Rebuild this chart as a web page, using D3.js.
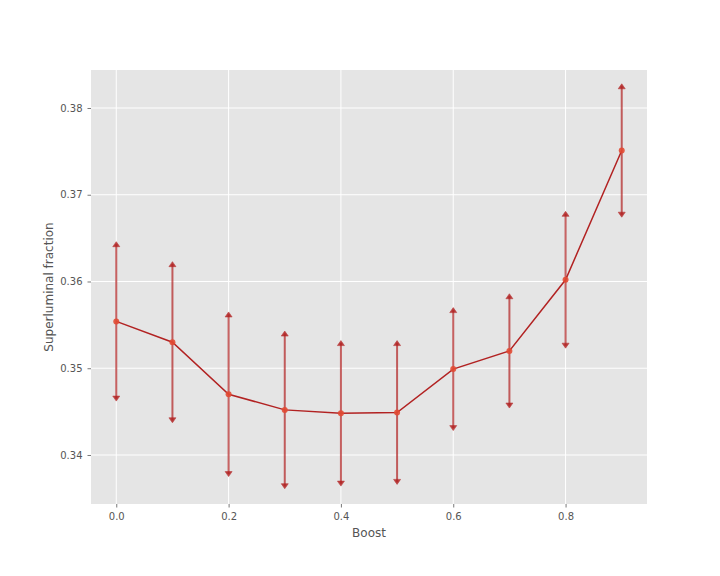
<!DOCTYPE html>
<html>
<head>
<meta charset="utf-8">
<script src="https://cdn.jsdelivr.net/npm/d3@7"></script>
<style>
  body { margin: 0; background: #fff; }
  svg { display: block; font-family: "DejaVu Sans", sans-serif; }
</style>
</head>
<body>
<svg id="chart" width="720" height="576"></svg>
<script>
const boost = [0.0, 0.1, 0.2, 0.3, 0.4, 0.5, 0.6, 0.7, 0.8, 0.9];
const fraction = [0.3554, 0.3530, 0.3470, 0.3452, 0.3448, 0.3449, 0.3499, 0.3520, 0.3602, 0.3751];
const errors = [0.0089, 0.0090, 0.0092, 0.0088, 0.0081, 0.0080, 0.0068, 0.0063, 0.0076, 0.0074];
const xTicks = [0.0, 0.2, 0.4, 0.6, 0.8];
const yTicks = [0.34, 0.35, 0.36, 0.37, 0.38];
const xLabel = "Boost";
const yLabel = "Superluminal fraction";

const margin = {left: 91, top: 70, right: 720 - 647, bottom: 576 - 504};
const W = 720 - margin.left - margin.right;
const H = 576 - margin.top - margin.bottom;

const svg = d3.select("#chart");
const g = svg.append("g").attr("transform", `translate(${margin.left},${margin.top})`);

const x = d3.scaleLinear().domain([-0.045, 0.945]).range([0, W]);
const y = d3.scaleLinear().domain([0.33435, 0.38438]).range([H, 0]);

g.append("rect").attr("width", W).attr("height", H).attr("fill", "#E5E5E5");

// grid
g.selectAll(".vg").data(xTicks).enter().append("line")
  .attr("x1", d => x(d)).attr("x2", d => x(d)).attr("y1", 0).attr("y2", H)
  .attr("stroke", "#fff").attr("stroke-width", 1);
g.selectAll(".hg").data(yTicks).enter().append("line")
  .attr("y1", d => y(d)).attr("y2", d => y(d)).attr("x1", 0).attr("x2", W)
  .attr("stroke", "#fff").attr("stroke-width", 1);

// axes
const xAxis = g.append("g").attr("transform", `translate(0,${H})`)
  .call(d3.axisBottom(x).tickValues(xTicks).tickFormat(d3.format(".1f")).tickSize(3.5).tickPadding(5));
const yAxis = g.append("g")
  .call(d3.axisLeft(y).tickValues(yTicks).tickFormat(d3.format(".2f")).tickSize(3.5).tickPadding(5));
[xAxis, yAxis].forEach(a => {
  a.select(".domain").remove();
  a.selectAll(".tick line").attr("stroke", "#555").attr("stroke-width", 0.8);
  a.selectAll(".tick text").attr("fill", "#555").attr("font-size", "10px")
    .attr("font-family", "DejaVu Sans, sans-serif");
});

// labels
svg.append("text").attr("x", margin.left + W / 2).attr("y", 537)
  .attr("text-anchor", "middle").attr("font-size", "12px").attr("fill", "#555").text(xLabel);
svg.append("text").attr("transform", `translate(53,${margin.top + H / 2}) rotate(-90)`)
  .attr("text-anchor", "middle").attr("font-size", "12px").attr("fill", "#555").text(yLabel);

const data = boost.map((b, i) => ({b, v: fraction[i], e: errors[i]}));
const ebColor = "#b22222";

// error bars
const eb = g.append("g").attr("opacity", 0.7);
eb.selectAll("line").data(data).enter().append("line")
  .attr("x1", d => x(d.b)).attr("x2", d => x(d.b))
  .attr("y1", d => y(d.v + d.e)).attr("y2", d => y(d.v - d.e))
  .attr("stroke", ebColor).attr("stroke-width", 2);
const arrows = g.append("g").attr("opacity", 0.85);
arrows.selectAll(".up").data(data).enter().append("path")
  .attr("d", d => {
    const cx = x(d.b), cy = y(d.v + d.e);
    return `M${cx},${cy - 2.5}L${cx - 3.5},${cy + 2.5}L${cx + 3.5},${cy + 2.5}Z`;
  })
  .attr("fill", ebColor).attr("stroke", ebColor).attr("stroke-width", 0.6);
arrows.selectAll(".dn").data(data).enter().append("path")
  .attr("d", d => {
    const cx = x(d.b), cy = y(d.v - d.e);
    return `M${cx},${cy + 2.5}L${cx - 3.5},${cy - 2.5}L${cx + 3.5},${cy - 2.5}Z`;
  })
  .attr("fill", ebColor).attr("stroke", ebColor).attr("stroke-width", 0.6);

// line
const line = d3.line().x(d => x(d.b)).y(d => y(d.v));
g.append("path").datum(data).attr("d", line)
  .attr("fill", "none").attr("stroke", "#b22222").attr("stroke-width", 1.5);

// points
g.selectAll(".pt").data(data).enter().append("circle")
  .attr("cx", d => x(d.b)).attr("cy", d => y(d.v)).attr("r", 3)
  .attr("fill", "#E24A33").attr("opacity", 0.9);
</script>
</body>
</html>
